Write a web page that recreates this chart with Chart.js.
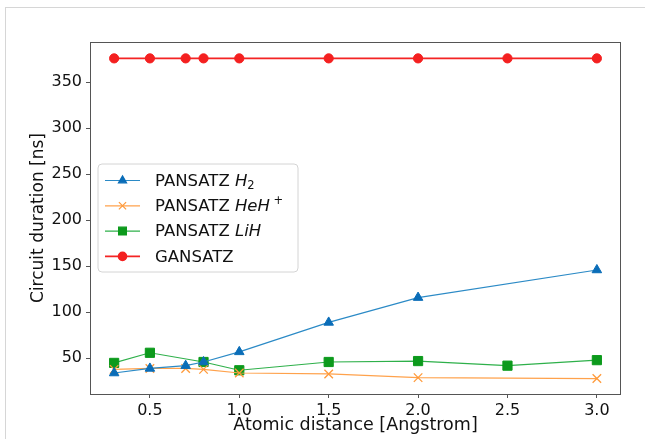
<!DOCTYPE html>
<html>
<head>
<meta charset="utf-8">
<script src="https://cdn.jsdelivr.net/npm/chart.js@4/dist/chart.umd.min.js"></script>
<style>
    body { margin: 0; background: #fff; }
    #wrap { position: relative; width: 645px; height: 439px; overflow: hidden; }
    #frame { position: absolute; left: 5px; top: 7px; right: -2px; bottom: -2px;
             border-top: 1px solid #d6d6d6; border-left: 1px solid #d6d6d6; pointer-events: none; }
    canvas { position: absolute; left: 0; top: 0; }
</style>
</head>
<body>
<div id="wrap">
    <canvas id="durationChart" width="645" height="439"></canvas>
    <div id="frame"></div>
</div>
<script>
// distances (Angstrom)
const xAll = [0.3, 0.5, 0.7, 0.8, 1.0, 1.5, 2.0, 2.5, 3.0];
const xH2 = [0.3, 0.5, 0.7, 0.8, 1.0, 1.5, 2.0, 3.0];
const xHeH = [0.3, 0.5, 0.7, 0.8, 1.0, 1.5, 2.0, 3.0];
const xLiH = [0.3, 0.5, 0.8, 1.0, 1.5, 2.0, 2.5, 3.0];

// circuit durations (ns)
const pansatzH2 = [34, 39, 42, 46, 57, 89, 116, 146];
const pansatzHeH = [38, 39, 39, 38, 34, 33, 29, 28];
const pansatzLiH = [45, 56, 46, 37, 46, 47, 42, 48];
const gansatz = [376, 376, 376, 376, 376, 376, 376, 376, 376];

// tick labels
const xTicks = [0.5, 1.0, 1.5, 2.0, 2.5, 3.0];
const yTicks = [50, 100, 150, 200, 250, 300, 350];

function toPoints(xs, ys) {
    return xs.map((x, i) => ({ x: x, y: ys[i] }));
}

const FONT = 'DejaVu Sans';

// boite de legende dans la zone du graphique (style matplotlib)
const boxLegend = {
    id: 'boxLegend',
    afterDatasetsDraw(chart) {
        const { ctx, chartArea } = chart;
        const x0 = chartArea.left + 8, y0 = chartArea.top + 122;
        const w = 200, h = 108, r = 4;
        ctx.save();
        ctx.beginPath();
        ctx.moveTo(x0 + r, y0);
        ctx.arcTo(x0 + w, y0, x0 + w, y0 + h, r);
        ctx.arcTo(x0 + w, y0 + h, x0, y0 + h, r);
        ctx.arcTo(x0, y0 + h, x0, y0, r);
        ctx.arcTo(x0, y0, x0 + w, y0, r);
        ctx.closePath();
        ctx.fillStyle = 'rgba(255,255,255,0.85)';
        ctx.fill();
        ctx.strokeStyle = '#d4d4d4';
        ctx.lineWidth = 1;
        ctx.stroke();

        chart.data.datasets.forEach((ds, i) => {
            const cy = y0 + 16.5 + i * 25.3;
            ctx.strokeStyle = ds.borderColor;
            ctx.lineWidth = ds.borderWidth;
            ctx.beginPath();
            ctx.moveTo(x0 + 7, cy);
            ctx.lineTo(x0 + 42, cy);
            ctx.stroke();
            ctx.fillStyle = ds.pointBackgroundColor;
            ctx.strokeStyle = ds.pointBorderColor;
            Chart.helpers.drawPoint(ctx, {
                pointStyle: ds.pointStyle,
                radius: ds.pointRadius * 0.85,
                rotation: 0,
                borderWidth: ds.pointBorderWidth
            }, x0 + 24.5, cy);

            // texte avec italique / indice / exposant
            let tx = x0 + 57;
            ctx.fillStyle = '#111';
            ctx.textBaseline = 'middle';
            ds.legendParts.forEach(p => {
                let size = 16.5, dy = 1, style = '';
                if (p[1] === 'i') style = 'italic ';
                if (p[1] === 'sub') { size = 11.5; dy = 6; }
                if (p[1] === 'sup') { size = 11.5; dy = -5; }
                ctx.font = style + size + 'px "' + FONT + '"';
                ctx.fillText(p[0], tx, cy + dy);
                tx += ctx.measureText(p[0]).width;
            });
        });
        ctx.restore();
    }
};

// cadre complet autour de la zone
const plotFrame = {
    id: 'plotFrame',
    afterDraw(chart) {
        const { ctx, chartArea } = chart;
        ctx.save();
        ctx.strokeStyle = '#555';
        ctx.lineWidth = 1;
        ctx.strokeRect(chartArea.left + 0.5, chartArea.top + 0.5,
            chartArea.right - chartArea.left - 1, chartArea.bottom - chartArea.top);
        ctx.restore();
    }
};

new Chart(document.getElementById('durationChart'), {
    type: 'line',
    data: {
        datasets: [{
            label: 'PANSATZ H2',
            legendParts: [['PANSATZ ', 'n'], ['H', 'i'], ['2', 'sub']],
            data: toPoints(xH2, pansatzH2),
            borderColor: '#2b8ac6',
            borderWidth: 1.2,
            pointStyle: 'triangle',
            pointRadius: 5.5,
            pointBackgroundColor: '#0a6db8',
            pointBorderColor: '#0a6db8',
            pointBorderWidth: 1
        }, {
            label: 'PANSATZ HeH+',
            legendParts: [['PANSATZ ', 'n'], ['HeH', 'i'], [' +', 'sup']],
            data: toPoints(xHeH, pansatzHeH),
            borderColor: '#ffa24c',
            borderWidth: 1.2,
            pointStyle: 'crossRot',
            pointRadius: 6,
            pointBackgroundColor: '#ff9a3a',
            pointBorderColor: '#ff9a3a',
            pointBorderWidth: 1.3
        }, {
            label: 'PANSATZ LiH',
            legendParts: [['PANSATZ ', 'n'], ['LiH', 'i']],
            data: toPoints(xLiH, pansatzLiH),
            borderColor: '#2eb04a',
            borderWidth: 1.2,
            pointStyle: 'rect',
            pointRadius: 6.5,
            pointBackgroundColor: '#0c9a1c',
            pointBorderColor: '#0c9a1c',
            pointBorderWidth: 1
        }, {
            label: 'GANSATZ',
            legendParts: [['GANSATZ', 'n']],
            data: toPoints(xAll, gansatz),
            borderColor: '#f42424',
            borderWidth: 1.8,
            pointStyle: 'circle',
            pointRadius: 4.6,
            pointBackgroundColor: '#f42020',
            pointBorderColor: '#f42020',
            pointBorderWidth: 1
        }]
    },
    options: {
        responsive: false,
        animation: false,
        layout: { padding: { left: 0, top: 42, right: 24, bottom: 0 } },
        plugins: {
            legend: { display: false },
            tooltip: { enabled: false }
        },
        elements: { line: { tension: 0 } },
        scales: {
            x: {
                type: 'linear',
                min: 0.165,
                max: 3.135,
                afterBuildTicks: (scale) => { scale.ticks = xTicks.map(v => ({ value: v })); },
                afterFit: (scale) => { scale.height = 45; },
                border: { display: false },
                grid: { drawOnChartArea: false, drawTicks: true, tickLength: 4, color: '#555' },
                ticks: {
                    color: '#111',
                    padding: 3,
                    maxRotation: 0,
                    font: { family: FONT, size: 16 },
                    callback: (v) => v.toFixed(1)
                },
                title: {
                    display: true,
                    text: 'Atomic distance [Angstrom]',
                    color: '#111',
                    font: { family: FONT, size: 17.5 },
                    padding: { top: 0, bottom: 3 }
                }
            },
            y: {
                min: 11.2,
                max: 393.8,
                afterBuildTicks: (scale) => { scale.ticks = yTicks.map(v => ({ value: v })); },
                afterFit: (scale) => { scale.width = 90; },
                border: { display: false },
                grid: { drawOnChartArea: false, drawTicks: true, tickLength: 4, color: '#555' },
                ticks: {
                    color: '#111',
                    padding: 4,
                    font: { family: FONT, size: 16 }
                },
                title: {
                    display: true,
                    text: 'Circuit duration [ns]',
                    color: '#111',
                    font: { family: FONT, size: 17 },
                    padding: { top: 28, bottom: 0 }
                }
            }
        }
    },
    plugins: [boxLegend, plotFrame]
});
</script>
</body>
</html>
